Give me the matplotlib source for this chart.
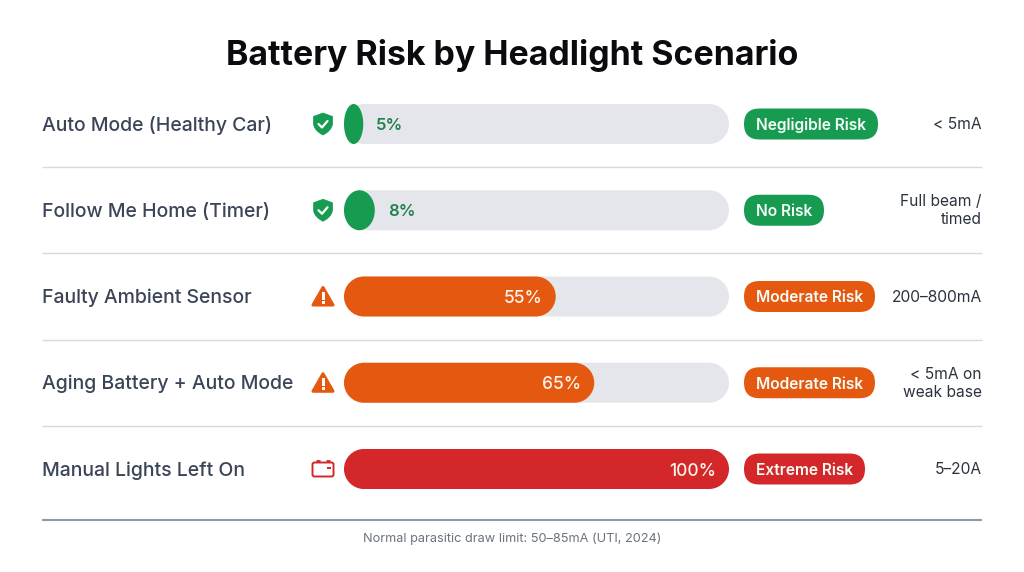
import matplotlib
matplotlib.use("Agg")
import matplotlib.pyplot as plt
from matplotlib.patches import FancyBboxPatch, PathPatch, Polygon, Rectangle
from matplotlib.path import Path
from matplotlib.transforms import offset_copy

scenarios = ["Auto Mode (Healthy Car)", "Follow Me Home (Timer)", "Faulty Ambient Sensor",
             "Aging Battery + Auto Mode", "Manual Lights Left On"]
risk_pct = [5, 8, 55, 65, 100]
risk_labels = ["Negligible Risk", "No Risk", "Moderate Risk", "Moderate Risk", "Extreme Risk"]
draw_labels = ["< 5mA", "Full beam /\ntimed", "200–800mA", "< 5mA on\nweak base", "5–20A"]
footnote = "Normal parasitic draw limit: 50–85mA (UTI, 2024)"

GREEN = "#169b50"
ORANGE = "#e4590f"
RED = "#d32729"
TRACK = "#e4e6eb"
risk_colors = [GREEN, GREEN, ORANGE, ORANGE, RED]
icon_kinds = ["shield", "shield", "warn", "warn", "battery"]
pill_widths = [134, 80, 131, 131, 121]

W, H = 1024, 572
ROW_H = 86.25
BAR_H = 40
TOP = 124 - ROW_H / 2

plt.rcParams["font.family"] = ["Inter", "DejaVu Sans"]
fig = plt.figure(figsize=(W / 100, H / 100), dpi=100, facecolor="white")

# full-figure axes in pixel units for text, rules and icons
page = fig.add_axes([0, 0, 1, 1])
page.set_xlim(0, W)
page.set_ylim(H, 0)
page.axis("off")

# bar axes: x is percent, y is scenario index
bars = fig.add_axes([344 / W, 1 - (TOP + 5 * ROW_H) / H, 385 / W, 5 * ROW_H / H])
bars.set_xlim(0, 100)
bars.set_ylim(4.5, -0.5)
bars.axis("off")


def pill_path(x0, x1, y, h, rx):
    # rounded bar, corners go elliptical when the bar is narrower than its height
    rx = min(rx, (x1 - x0) / 2)
    ry = h / 2
    k = 0.5523
    top, bot = y - ry, y + ry
    verts = [(x0 + rx, top), (x1 - rx, top),
             (x1 - rx + k * rx, top), (x1, y - k * ry), (x1, y),
             (x1, y + k * ry), (x1 - rx + k * rx, bot), (x1 - rx, bot),
             (x0 + rx, bot),
             (x0 + rx - k * rx, bot), (x0, y + k * ry), (x0, y),
             (x0, y - k * ry), (x0 + rx - k * rx, top), (x0 + rx, top),
             (x0 + rx, top)]
    codes = [Path.MOVETO, Path.LINETO] + [Path.CURVE4] * 6 + [Path.LINETO] + [Path.CURVE4] * 6 + [Path.CLOSEPOLY]
    return Path(verts, codes)


def draw_icon(kind, cx, cy, color):
    if kind == "shield":
        verts = [(cx, cy - 11), (cx + 9.5, cy - 7.5), (cx + 9.5, cy - 1), (cx + 9.5, cy + 5), (cx + 4, cy + 9), (cx, cy + 11),
                 (cx - 4, cy + 9), (cx - 9.5, cy + 5), (cx - 9.5, cy - 1), (cx - 9.5, cy - 7.5), (cx, cy - 11)]
        codes = [Path.MOVETO, Path.LINETO, Path.LINETO, Path.CURVE4, Path.CURVE4, Path.CURVE4,
                 Path.CURVE4, Path.CURVE4, Path.CURVE4, Path.LINETO, Path.CLOSEPOLY]
        page.add_patch(PathPatch(Path(verts, codes), fc=color, ec=color, lw=0.5))
        page.plot([cx - 4.5, cx - 1, cx + 4.5], [cy, cy + 3.5, cy - 3], color="white", lw=1.6,
                  solid_capstyle="round", solid_joinstyle="round")
    elif kind == "warn":
        page.add_patch(Polygon([(cx, cy - 9), (cx + 10, cy + 8.5), (cx - 10, cy + 8.5)], closed=True,
                               fc=color, ec=color, lw=2.2, joinstyle="round"))
        page.add_patch(Rectangle((cx - 1.5, cy - 4.5), 3, 7.5, fc="white", ec="none"))
        page.add_patch(Rectangle((cx - 1.5, cy + 4.5), 3, 2.8, fc="white", ec="none"))
    else:
        page.add_patch(FancyBboxPatch((cx - 10.5, cy - 6.5), 21, 14, boxstyle="round,pad=0,rounding_size=2",
                                      fc="white", ec=color, lw=1.4))
        page.plot([cx - 7, cx - 3], [cy - 8, cy - 8], color=color, lw=2, solid_capstyle="butt")
        page.plot([cx + 3, cx + 7], [cy - 8, cy - 8], color=color, lw=2, solid_capstyle="butt")
        page.plot([cx + 3.5, cx + 7.5], [cy - 1, cy - 1], color=color, lw=1.5, solid_capstyle="butt")


page.text(512, 55, "Battery Risk by Headlight Scenario", ha="center", va="center",
          fontsize=24.4, fontweight="bold", color="#0b0b0f")

bar_h = BAR_H / ROW_H
corner = 20 / 3.85
for i, pct in enumerate(risk_pct):
    y = 124 + i * ROW_H
    color = risk_colors[i]

    bars.add_patch(PathPatch(pill_path(0, 100, i, bar_h, corner), fc=TRACK, ec="none"))
    bars.add_patch(PathPatch(pill_path(0, pct, i, bar_h, corner), fc=color, ec="none"))
    if pct < 20:
        trans = offset_copy(bars.transData, fig=fig, x=13, y=0, units="dots")
        bars.text(pct, i, f"{pct}%", transform=trans, ha="left", va="center_baseline",
                  fontsize=12, fontweight="semibold", color="#23804c")
    else:
        trans = offset_copy(bars.transData, fig=fig, x=-13, y=0, units="dots")
        bars.text(pct, i, f"{pct}%", transform=trans, ha="right", va="center_baseline",
                  fontsize=12.5, fontweight="medium", color="#fff3ea")

    page.text(42, y - 0.7, scenarios[i], ha="left", va="center_baseline", fontsize=14, fontweight="medium", color="#3b4557")
    draw_icon(icon_kinds[i], 323, y, color)

    page.add_patch(FancyBboxPatch((744, y - 15.5), pill_widths[i], 31, boxstyle="round,pad=0,rounding_size=15.5",
                                  fc=color, ec="none"))
    page.text(744 + pill_widths[i] / 2, y, risk_labels[i], ha="center", va="center_baseline",
              fontsize=11.2, fontweight="semibold", color="#f4fbf6")

    page.text(982, y + 0.5, draw_labels[i], ha="right", va="center", fontsize=11.2, color="#2b3340",
              linespacing=1.22, multialignment="right")

    if i < 4:
        page.plot([42, 982], [y + 43, y + 43], color="#d8dade", lw=1, solid_capstyle="butt")

page.plot([42, 982], [520, 520], color="#8c99ab", lw=1.5, solid_capstyle="butt")
page.text(512, 538.5, footnote, ha="center", va="center", fontsize=9.2, color="#6b7280")

fig.savefig("out.png", dpi=100, facecolor="white")
